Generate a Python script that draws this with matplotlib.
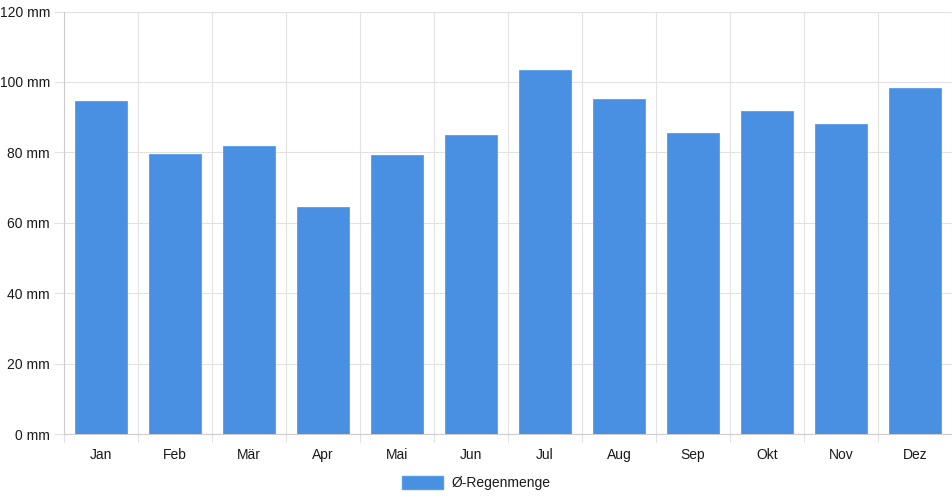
import matplotlib
matplotlib.use("Agg")
import matplotlib.pyplot as plt
from matplotlib.patches import Patch

months = ["Jan", "Feb", "Mär", "Apr", "Mai", "Jun", "Jul", "Aug", "Sep", "Okt", "Nov", "Dez"]
rain = [94.7, 79.6, 81.9, 64.5, 79.3, 85.0, 103.4, 95.1, 85.4, 91.8, 88.1, 98.4]
yticks = [0, 20, 40, 60, 80, 100, 120]
series_label = "Ø-Regenmenge"

plt.rcParams['font.family'] = ['Liberation Sans', 'DejaVu Sans']

W, H = 952, 500
fig = plt.figure(figsize=(W / 100, H / 100), dpi=100)
ax = fig.add_axes([64 / W, (H - 434) / H, (W - 64) / W, (434 - 11.5) / H])

bar_color = "#4a90e2"
x = list(range(len(months)))
ax.bar(x, rain, width=0.71, color=bar_color, edgecolor="#5b9be6", linewidth=0.6, zorder=3)

ax.set_xlim(-0.5, len(months) - 0.5)
ax.set_ylim(0, 120)
ax.set_yticks(yticks)
ax.set_yticklabels([f"{v} mm" for v in yticks])
ax.set_xticks(x)
ax.set_xticklabels(months)

# vertical gridlines at category boundaries
for b in [i - 0.5 for i in range(len(months) + 1)]:
    ax.axvline(b, color="#e2e2e2", linewidth=0.8, zorder=1)
    ax.plot([b, b], [0, -2.3], color="#e2e2e2", linewidth=0.8, clip_on=False, zorder=1)
ax.yaxis.grid(True, color="#e2e2e2", linewidth=0.8, zorder=1)

for s in ["top", "right"]:
    ax.spines[s].set_visible(False)
ax.spines["left"].set_color("#cccccc")
ax.spines["bottom"].set_color("#cccccc")
ax.spines["left"].set_linewidth(0.8)
ax.spines["bottom"].set_linewidth(0.8)

ax.tick_params(axis="y", length=7, color="#e2e2e2", width=0.8, labelsize=10, labelcolor="#1a1a1a", pad=3)
ax.tick_params(axis="x", length=0, labelsize=10, labelcolor="#1a1a1a", pad=10)

handle = Patch(facecolor=bar_color, edgecolor="#5b9be6", label=series_label)
fig.legend(handles=[handle], loc="center", bbox_to_anchor=(0.5, 1 - 483 / H),
           frameon=False, fontsize=10, handlelength=3.0, handleheight=1.05,
           handletextpad=0.6, labelcolor="#1a1a1a")

fig.savefig("out.png", dpi=100)
